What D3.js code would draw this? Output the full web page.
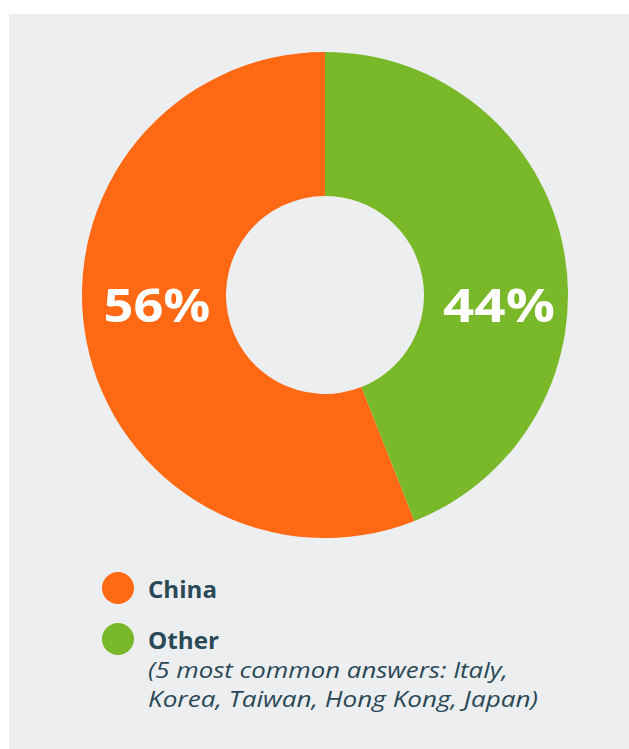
<!DOCTYPE html>
<html>
<head>
<meta charset="utf-8">
<script src="https://cdn.jsdelivr.net/npm/d3@7"></script>
<style>
  body { margin: 0; background: #fff; }
  svg { display: block; }
</style>
</head>
<body>
<div id="chart"></div>
<script>
(function(){

var categories = ["China", "Other"]
var values = [56, 44]
var colors = ["#FF6914", "#79B829"]
var note_lines = ["(5 most common answers: Italy,", "Korea, Taiwan, Hong Kong, Japan)"]

var W = 629, H = 749
var textcol = "#2A4957"
var font = "'Open Sans', Lato, sans-serif"

var svg = d3.select("#chart").append("svg")
	.attr("width", W)
	.attr("height", H)

svg.append("rect")
	.attr("x", 9).attr("y", 14)
	.attr("width", W - 9).attr("height", H - 14)
	.style("fill", "#EDEEF0")

var cx = 325, cy = 295
var outer = 243, inner = 99
var mid = (inner + outer) / 2

var total = d3.sum(values)
var color = d3.scaleOrdinal().domain(categories).range(colors)

// china sits on the left, other starts at 12 o'clock
var pie = d3.pie().sort(null)
	.startAngle(-2 * Math.PI * values[0] / total)
	.endAngle(2 * Math.PI - 2 * Math.PI * values[0] / total)

var arc = d3.arc().innerRadius(inner).outerRadius(outer)

var data = categories.map(function(c, i){ return {name: c, value: values[i]} })

var plot = svg.append("g").attr("transform", "translate(" + cx + "," + cy + ")")

var slices = plot.selectAll(".slice").data(pie.value(function(d){ return d.value })(data))
	.enter().append("g").attr("class", "slice")

slices.append("path")
	.attr("d", arc)
	.style("fill", function(d){ return color(d.data.name) })

// labels sit level, in the middle of the ring on each side
slices.append("text")
	.text(function(d){ return d.data.value + "%" })
	.attr("transform", function(d){
		var a = (d.startAngle + d.endAngle) / 2
		var side = Math.sin(a) < 0 ? -1 : 1
		return "translate(" + (side * mid + 3) + "," + 27 + ")"
	})
	.style("text-anchor", "middle")
	.style("font-family", font)
	.style("font-weight", "bold")
	.style("font-size", "47px")
	.style("fill", "#fff")
	.attr("textLength", function(d, i){ return i == 0 ? 107 : 112 })
	.attr("lengthAdjust", "spacingAndGlyphs")

// legend
var legend = svg.selectAll(".legend").data(data).enter()
	.append("g").attr("class", "legend")
	.attr("transform", function(d, i){ return "translate(118," + (588 + i * 51) + ")" })

legend.append("circle").attr("r", 16)
	.style("fill", function(d){ return color(d.name) })

legend.append("text")
	.text(function(d){ return d.name })
	.attr("x", 30).attr("y", 10)
	.style("font-family", font)
	.style("font-weight", "bold")
	.style("font-size", "23px")
	.style("fill", textcol)
	.attr("textLength", function(d){ return d.name == "China" ? 69 : 71 })
	.attr("lengthAdjust", "spacingAndGlyphs")

svg.selectAll(".note").data(note_lines).enter()
	.append("text").attr("class", "note")
	.text(function(d){ return d })
	.attr("x", 148)
	.attr("y", function(d, i){ return 678 + i * 29 })
	.style("font-family", font)
	.style("font-style", "italic")
	.style("font-size", "21px")
	.style("fill", textcol)
	.attr("textLength", function(d, i){ return i == 0 ? 360 : 390 })
	.attr("lengthAdjust", "spacingAndGlyphs")

})()
</script>
</body>
</html>
